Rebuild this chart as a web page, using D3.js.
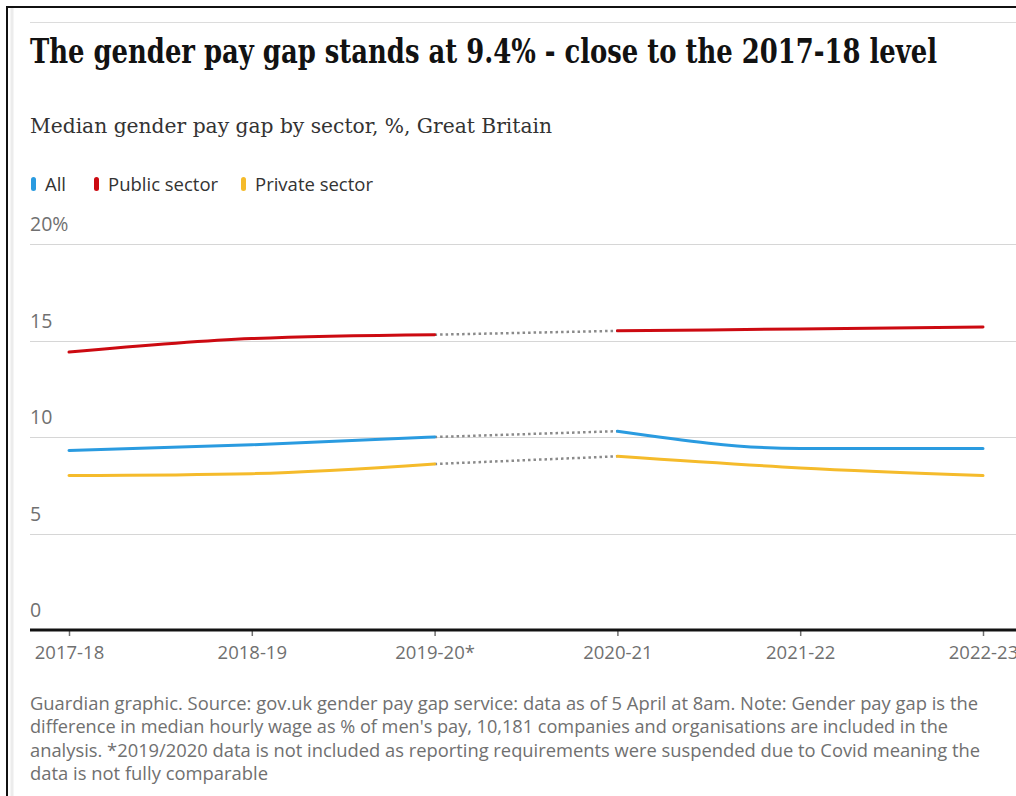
<!DOCTYPE html>
<html><head><meta charset="utf-8">
<script src="https://cdn.jsdelivr.net/npm/d3@7"></script>
<style>
html,body{margin:0;padding:0;background:#fff;}
svg{display:block;}
</style></head>
<body>
<svg id="c" width="1016" height="796"></svg>
<script>
const years = ["2017-18","2018-19","2019-20*","2020-21","2021-22","2022-23"];
const allValues = [9.3, 9.6, 10.0, 10.3, 9.4, 9.4];
const publicValues = [14.4, 15.1, 15.3, 15.5, 15.6, 15.7];
const privateValues = [8.0, 8.1, 8.6, 9.0, 8.4, 8.0];
const yTicks = [0, 5, 10, 15, 20];
const seriesNames = ["All", "Public sector", "Private sector"];
const gapIndex = 2; // gap between 2019-20* and 2020-21 drawn dotted

const colors = {"All":"#2a9be0", "Public sector":"#cc0a11", "Private sector":"#f5bb2b"};
const series = [
  {name:"All", values: allValues},
  {name:"Public sector", values: publicValues},
  {name:"Private sector", values: privateValues}
];

const svg = d3.select("#c");

// frame
svg.append("line").attr("x1",6).attr("x2",1016).attr("y1",7).attr("y2",7).attr("stroke","#111").attr("stroke-width",2);
svg.append("line").attr("x1",7).attr("x2",7).attr("y1",6).attr("y2",796).attr("stroke","#111").attr("stroke-width",2);
svg.append("line").attr("x1",12).attr("x2",12).attr("y1",8).attr("y2",796).attr("stroke","#ececec").attr("stroke-width",3);
svg.append("line").attr("x1",30).attr("x2",1016).attr("y1",22.5).attr("y2",22.5).attr("stroke","#dcdcdc").attr("stroke-width",1);

// title
svg.append("text").attr("x",30).attr("y",63)
  .attr("font-family","'DejaVu Serif Condensed','DejaVu Serif',serif").attr("font-weight","bold")
  .attr("font-size",33).attr("fill","#121212")
  .attr("textLength",907).attr("lengthAdjust","spacingAndGlyphs")
  .text("The gender pay gap stands at 9.4% - close to the 2017-18 level");

svg.append("text").attr("x",30).attr("y",133)
  .attr("font-family","'DejaVu Serif Condensed','DejaVu Serif',serif")
  .attr("font-size",20.5).attr("fill","#333")
  .attr("textLength",522).attr("lengthAdjust","spacingAndGlyphs")
  .text("Median gender pay gap by sector, %, Great Britain");

// legend
const legendX = [31, 94, 241];
const lg = svg.append("g");
seriesNames.forEach((n,i)=>{
  lg.append("rect").attr("x",legendX[i]).attr("y",177).attr("width",5).attr("height",14).attr("rx",2.5)
    .attr("fill",colors[n]);
  lg.append("text").attr("x",legendX[i]+14).attr("y",191)
    .attr("font-family","'Open Sans',sans-serif").attr("font-size",18.5).attr("fill","#333")
    .text(n);
});

// scales
const x = d3.scalePoint().domain(years).range([69, 983]);
const y = d3.scaleLinear().domain([0,20]).range([630, 244]);

// gridlines and y labels
const grid = svg.append("g");
yTicks.forEach(t=>{
  if (t>0) grid.append("line").attr("x1",30).attr("x2",1016).attr("y1",Math.round(y(t))+0.5).attr("y2",Math.round(y(t))+0.5)
    .attr("stroke","#d6d6d6").attr("stroke-width",1);
  grid.append("text").attr("x",30).attr("y",y(t)-13)
    .attr("font-family","'Open Sans',sans-serif").attr("font-size",19.5).attr("fill","#707070")
    .text(t===20 ? "20%" : String(t));
});

// x axis
const xAxis = svg.append("g").attr("transform","translate(0,630)")
  .call(d3.axisBottom(x).tickSize(6).tickPadding(10));
xAxis.select(".domain").remove();
xAxis.selectAll(".tick line").attr("stroke","#707070").attr("stroke-width",1.5);
xAxis.selectAll(".tick text").attr("font-family","'Open Sans',sans-serif").attr("font-size",18.5).attr("fill","#707070");
svg.append("line").attr("x1",30).attr("x2",1016).attr("y1",y(0)).attr("y2",y(0)).attr("stroke","#121212").attr("stroke-width",3);

// lines
const line = d3.line().x(d=>x(d.year)).y(d=>y(d.v)).curve(d3.curveMonotoneX);
const lines = svg.append("g");
series.forEach(s=>{
  const pts = s.values.map((v,i)=>({year:years[i], v}));
  const before = pts.slice(0, gapIndex+1);
  const gap = pts.slice(gapIndex, gapIndex+2);
  const after = pts.slice(gapIndex+1);
  lines.append("path").attr("d", d3.line().x(d=>x(d.year)).y(d=>y(d.v))(gap))
    .attr("fill","none").attr("stroke","#8a8a8a").attr("stroke-width",2.5).attr("stroke-dasharray","2.5,3");
  [before, after].forEach(seg=>{
    lines.append("path").attr("d", line(seg)).attr("fill","none")
      .attr("stroke",colors[s.name]).attr("stroke-width",3).attr("stroke-linecap","round");
  });
});

// footer
const footer = [
  "Guardian graphic. Source: gov.uk gender pay gap service: data as of 5 April at 8am. Note: Gender pay gap is the",
  "difference in median hourly wage as % of men's pay, 10,181 companies and organisations are included in the",
  "analysis. *2019/2020 data is not included as reporting requirements were suspended due to Covid meaning the",
  "data is not fully comparable"
];
const footerWidths = [948, 918, 950, 238];
footer.forEach((t,i)=>{
  svg.append("text").attr("x",30).attr("y",710+i*23.3)
    .attr("font-family","'Open Sans',sans-serif").attr("font-size",18).attr("fill","#707070").text(t)
    .attr("textLength",footerWidths[i]).attr("lengthAdjust","spacingAndGlyphs");
});
</script>
</body></html>
